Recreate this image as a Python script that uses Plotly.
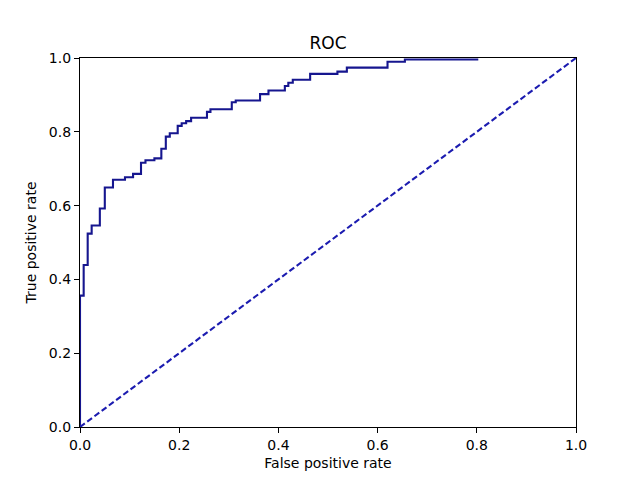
import plotly.graph_objects as go

fpr = [0.0, 0.0, 0.0074, 0.0155, 0.0235, 0.040, 0.050, 0.0665, 0.0907, 0.107,
       0.123, 0.132, 0.150, 0.164, 0.173, 0.181, 0.197, 0.205, 0.214, 0.224,
       0.256, 0.263, 0.306, 0.314, 0.363, 0.380, 0.413, 0.420, 0.429, 0.464,
       0.519, 0.538, 0.620, 0.655, 0.803]
tpr = [0.0, 0.356, 0.439, 0.524, 0.546, 0.592, 0.649, 0.670, 0.677, 0.686,
       0.716, 0.723, 0.728, 0.754, 0.787, 0.796, 0.816, 0.823, 0.829, 0.838,
       0.854, 0.861, 0.880, 0.885, 0.902, 0.912, 0.924, 0.933, 0.941, 0.957,
       0.963, 0.974, 0.990, 0.996, 0.996]
diag_x = [0, 1]
diag_y = [0, 1]
tick_vals = [0.0, 0.2, 0.4, 0.6, 0.8, 1.0]
tick_text = ["0.0", "0.2", "0.4", "0.6", "0.8", "1.0"]

fig = go.Figure()
fig.add_trace(go.Scatter(x=fpr, y=tpr, mode="lines", line_shape="hv",
                         line=dict(color="#16168f", width=2.1), showlegend=False))
fig.add_trace(go.Scatter(x=diag_x, y=diag_y, mode="lines",
                         line=dict(color="#1c1cb0", width=2.1, dash="6px,3px"),
                         showlegend=False))

axis_common = dict(range=[0, 1], tickvals=tick_vals, ticktext=tick_text,
                   showgrid=False, zeroline=False, showline=True, mirror=True,
                   linecolor="black", linewidth=1.2, ticks="outside", ticklen=5,
                   tickwidth=1, tickcolor="black",
                   tickfont=dict(family="DejaVu Sans", size=14, color="black"))

fig.update_layout(
    width=640, height=480,
    margin=dict(l=72, r=72, t=50, b=61),
    paper_bgcolor="white", plot_bgcolor="white",
    title=dict(text="ROC", x=0.5, xanchor="center",
               y=1 - 35 / 480, yanchor="middle",
               font=dict(family="DejaVu Sans", size=17, color="black")),
    xaxis=dict(axis_common, title=dict(text="False positive rate", standoff=6,
               font=dict(family="DejaVu Sans", size=14, color="black"))),
    yaxis=dict(axis_common, title=dict(text="True positive rate", standoff=8,
               font=dict(family="DejaVu Sans", size=14, color="black"))),
)

fig.write_html("out.html")
